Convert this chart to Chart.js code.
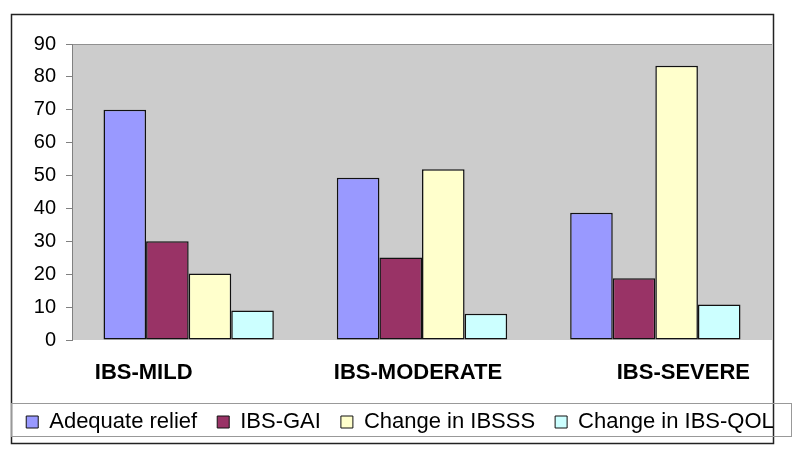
<!DOCTYPE html>
<html>
<head>
<meta charset="utf-8">
<script src="https://cdn.jsdelivr.net/npm/chart.js@4"></script>
<style>
  html, body { margin: 0; padding: 0; background: #fff; }
  #wrap { width: 800px; height: 454px; }
</style>
</head>
<body>
<div id="wrap"><canvas id="chart" width="800" height="454"></canvas></div>
<script>
// categories and series
const categories = ['IBS-MILD', 'IBS-MODERATE', 'IBS-SEVERE'];
const adequateRelief = [70, 49.3, 38.7];
const ibsGai = [30, 25.1, 18.8];
const changeIbsss = [20.2, 51.9, 83.4];
const changeIbsQol = [9, 8, 10.8];
const yTicks = [0, 10, 20, 30, 40, 50, 60, 70, 80, 90];

const FONT = 'Arial, "Liberation Sans", sans-serif';
// category labels in the original sit off-centre
const labelShift = [-45, -4, 28];

// gray plot area + outer frame + legend frame
const framePlugin = {
    id: 'frames',
    beforeDraw(chart) {
        const ctx = chart.ctx;
        const a = chart.chartArea;
        ctx.save();
        ctx.strokeStyle = '#222';
        ctx.lineWidth = 1.5;
        ctx.strokeRect(11.5, 14.5, 762, 429);
        ctx.fillStyle = '#cccccc';
        ctx.fillRect(a.left, a.top, a.right - a.left, a.bottom - a.top);
        ctx.strokeStyle = '#909090';
        ctx.lineWidth = 1;
        ctx.beginPath();
        ctx.moveTo(a.left, a.top + 0.5);
        ctx.lineTo(a.right, a.top + 0.5);
        ctx.stroke();
        ctx.restore();
    },
    afterDraw(chart) {
        const ctx = chart.ctx;
        const x = chart.scales.x;
        ctx.save();
        ctx.strokeStyle = '#999';
        ctx.lineWidth = 1;
        ctx.strokeRect(11.5, 403.5, 780, 33);
        ctx.fillStyle = '#000';
        ctx.font = 'bold 22px ' + FONT;
        ctx.textAlign = 'center';
        ctx.textBaseline = 'middle';
        categories.forEach((c, i) => {
            ctx.fillText(c, x.getPixelForValue(i) + labelShift[i], chart.chartArea.bottom + 33);
        });
        ctx.restore();
    }
};

const ds = (label, data, color) => ({
    label, data, backgroundColor: color, borderColor: '#111', borderWidth: 1.5,
    borderSkipped: false, categoryPercentage: 0.73, barPercentage: 1
});

new Chart(document.getElementById('chart'), {
    type: 'bar',
    data: {
        labels: categories,
        datasets: [
            ds('Adequate relief', adequateRelief, '#9999ff'),
            ds('IBS-GAI', ibsGai, '#993366'),
            ds('Change in IBSSS', changeIbsss, '#ffffcc'),
            ds('Change in IBS-QOL', changeIbsQol, '#ccffff')
        ]
    },
    options: {
        responsive: false,
        animation: false,
        devicePixelRatio: 1,
        layout: { padding: { top: 44, left: 0, right: 0, bottom: 11 } },
        plugins: {
            tooltip: { enabled: false },
            legend: {
                position: 'bottom',
                labels: {
                    font: { family: FONT, size: 22 },
                    color: '#000',
                    boxWidth: 12,
                    boxHeight: 12,
                    padding: 20,
                    generateLabels(chart) {
                        return chart.data.datasets.map((d, i) => ({
                            text: d.label, fillStyle: d.backgroundColor, strokeStyle: '#111',
                            lineWidth: 1, datasetIndex: i, hidden: false, fontColor: '#000'
                        }));
                    }
                }
            }
        },
        scales: {
            x: {
                grid: { display: false },
                border: { display: false },
                ticks: { display: false },
                afterFit(s) { s.height = 51; }
            },
            y: {
                min: 0, max: 90,
                afterBuildTicks(s) { s.ticks = yTicks.map(v => ({ value: v })); },
                grid: { drawOnChartArea: false, color: '#808080', tickLength: 6, lineWidth: 1 },
                border: { color: '#808080', width: 1 },
                ticks: { font: { family: FONT, size: 20 }, color: '#000', padding: 10 },
                afterFit(s) { s.width = 72; }
            },
            yR: {
                position: 'right',
                display: true,
                grid: { display: false },
                border: { display: false },
                ticks: { display: false },
                afterFit(s) { s.width = 28; }
            }
        }
    },
    plugins: [framePlugin]
});
</script>
</body>
</html>
